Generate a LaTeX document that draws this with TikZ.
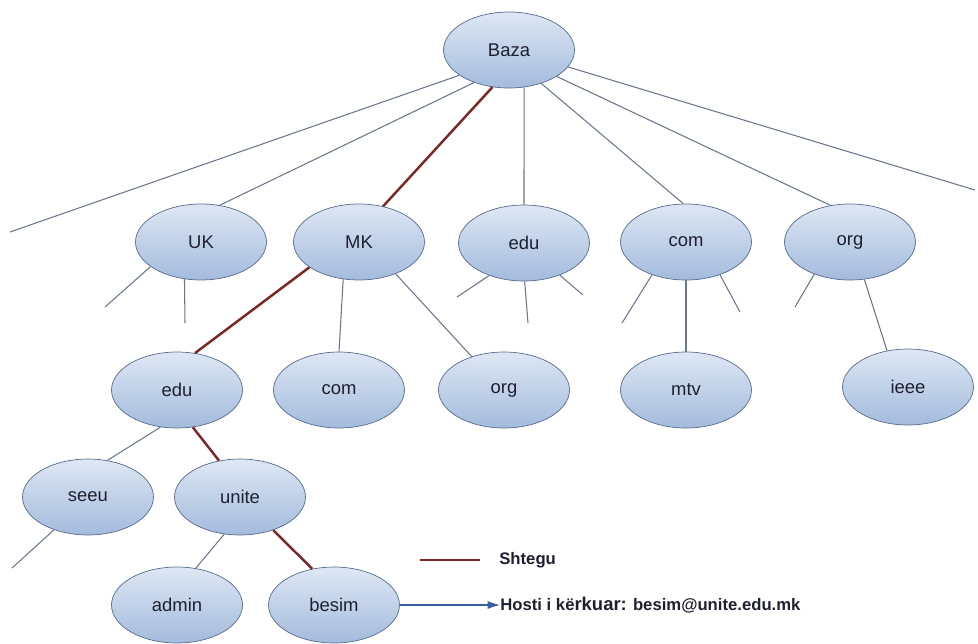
\documentclass[tikz,border=0pt]{standalone}
\usepackage{fontspec}
\setmainfont{Liberation Sans}
\definecolor{nodetop}{RGB}{222, 231, 244}
\definecolor{nodebot}{RGB}{163, 187, 221}
\definecolor{nodeline}{RGB}{88, 108, 140}
\definecolor{linkgray}{RGB}{105, 118, 140}
\definecolor{pathred}{RGB}{125, 38, 38}
\definecolor{arrowblue}{RGB}{55, 95, 160}
\definecolor{txt}{RGB}{30, 32, 48}
\usetikzlibrary{shapes.geometric, arrows.meta}

\begin{document}
\begin{tikzpicture}[x=0.02cm, y=-0.02cm,
  dom/.style={ellipse, draw=nodeline, top color=nodetop, bottom color=nodebot,
              minimum width=2.62cm, minimum height=1.52cm, inner sep=0pt,
              font=\fontsize{10.5}{12}\selectfont, text=txt},
  lnk/.style={draw=linkgray, line width=0.6pt},
  hop/.style={draw=pathred, line width=1.4pt},
  legend/.style={font=\fontsize{9.5}{11}\selectfont\bfseries, text=txt, anchor=west, inner sep=0pt},
]
\useasboundingbox (0,0) rectangle (978,643);

% Root and first level
\node[dom] (baza) at (509,50) {Baza};
\node[dom] (uk)  at (201,242) {UK};
\node[dom] (mk)  at (359,242) {MK};
\node[dom] (edu) at (524,243) {edu};
\node[dom] (com) at (686,242) {com};
\node[dom] (org) at (850,242) {org};

% Second level
\node[dom] (mkedu) at (177,390) {edu};
\node[dom] (mkcom) at (339,390) {com};
\node[dom] (mkorg) at (504,390) {org};
\node[dom] (mtv)   at (686,390) {mtv};
\node[dom] (ieee)  at (908,387) {ieee};

% Third and fourth level
\node[dom] (seeu)  at (88,497) {seeu};
\node[dom] (unite) at (240,497) {unite};
\node[dom] (admin) at (177,605) {admin};
\node[dom] (besim) at (334,605) {besim};

% Free ends
\coordinate (bl) at (10,232);
\coordinate (br) at (975,190);
\coordinate (uk1) at (105,307);
\coordinate (uk2) at (185,323);
\coordinate (edu1) at (457,297);
\coordinate (edu2) at (528,323);
\coordinate (edu3) at (583,295);
\coordinate (com1) at (622,323);
\coordinate (com2) at (740,312);
\coordinate (org1) at (795,307);
\coordinate (seeu1) at (12,568);

% Links
\draw[lnk] (baza.207) -- (bl);
\draw[lnk] (baza.223) -- (uk.63);
\draw[lnk] (baza.292) -- (edu.90);
\draw[lnk] (baza.314) -- (com.94);
\draw[lnk] (baza.331) -- (org.118);
\draw[lnk] (baza.344) -- (br);
\draw[lnk] (uk.206) -- (uk1);
\draw[lnk] (uk.246) -- (uk2);
\draw[lnk] (mk.247) -- (mkcom.90);
\draw[lnk] (mk.319) -- (mkorg.134);
\draw[lnk] (edu.223) -- (edu1);
\draw[lnk] (edu.271) -- (edu2);
\draw[lnk] (edu.318) -- (edu3);
\draw[lnk] (com.224) -- (com1);
\draw[lnk] (com.270) -- (mtv.90);
\draw[lnk] (com.316) -- (com2);
\draw[lnk] (org.222) -- (org1);
\draw[lnk] (org.291) -- (ieee.120);
\draw[lnk] (mkedu.246) -- (seeu.62);
\draw[lnk] (seeu.224) -- (seeu1);
\draw[lnk] (unite.247) -- (admin.63);

% Path to host
\draw[hop] (baza.246) -- (mk.56);
\draw[hop] (mk.207) -- (mkedu.64);
\draw[hop] (mkedu.293) -- (unite.120);
\draw[hop] (unite.315) -- (besim.121);

% Legend
\coordinate (lg1) at (420,560);
\coordinate (lg2) at (480,560);
\draw[hop] (lg1) -- (lg2);
\node[legend] (shtegu) at (499,560) {Shtegu};
\node[legend] (host) at (500,605) {Hosti i kë{\fontsize{10.5}{12}\selectfont rkuar:} besim@unite.edu.mk};
\draw[draw=arrowblue, line width=0.6pt, -{Latex[length=7pt, width=4.5pt]}] (besim.east) -- (host.west);
\end{tikzpicture}
\end{document}
